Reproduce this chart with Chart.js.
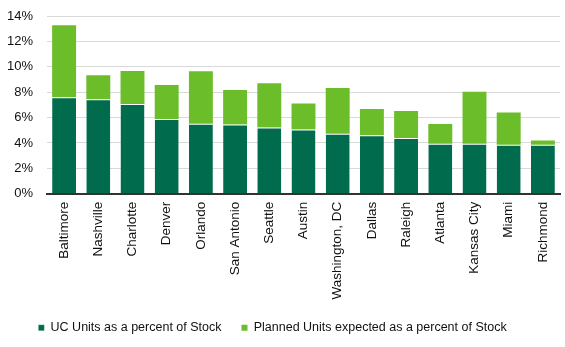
<!DOCTYPE html>
<html>
<head>
<meta charset="utf-8">
<script src="https://cdn.jsdelivr.net/npm/chart.js@4"></script>
<style>
  html, body { margin: 0; padding: 0; background: #fff; }
  #wrap { width: 565px; height: 347px; }
</style>
</head>
<body>
<div id="wrap"><canvas id="chart"></canvas></div>
<script>
// Ciudades y valores (porcentaje del stock)
const cities = ['Baltimore', 'Nashville', 'Charlotte', 'Denver', 'Orlando', 'San Antonio', 'Seattle',
    'Austin', 'Washington, DC', 'Dallas', 'Raleigh', 'Atlanta', 'Kansas City', 'Miami', 'Richmond'];
const ucUnits = [7.6, 7.45, 7.06, 5.88, 5.52, 5.45, 5.22, 5.05, 4.73, 4.6, 4.38, 3.93, 3.93, 3.86, 3.86];
const plannedUnits = [5.68, 1.88, 2.6, 2.68, 4.12, 2.73, 3.48, 2.06, 3.6, 2.07, 2.14, 1.57, 4.1, 2.54, 0.34];
const yTicks = [0, 2, 4, 6, 8, 10, 12, 14];

const darkGreen = '#006b4d';
const lightGreen = '#6cbd2a';

// pequeño ajuste: la leyenda original esta un poco a la izquierda del centro
const legendShift = {
    id: 'legendShift',
    afterLayout(chart) {
        const lg = chart.legend;
        if (lg) { lg.left = -10; lg.right = chart.width - 10; }
    }
};

const ctx = document.getElementById('chart').getContext('2d');
new Chart(ctx, {
    type: 'bar',
    data: {
        labels: cities,
        datasets: [{
            label: 'UC Units as a percent of Stock',
            data: ucUnits,
            backgroundColor: darkGreen,
            borderColor: '#ffffff',
            borderWidth: { top: 1, left: 0, right: 0, bottom: 0 },
            borderSkipped: false,
            categoryPercentage: 1,
            barPercentage: 0.7
        }, {
            label: 'Planned Units expected as a percent of Stock',
            data: plannedUnits,
            backgroundColor: lightGreen,
            borderWidth: 0,
            categoryPercentage: 1,
            barPercentage: 0.7
        }]
    },
    options: {
        responsive: true,
        maintainAspectRatio: false,
        animation: false,
        layout: { padding: { top: 0, left: 0, right: 5, bottom: 3 } },
        scales: {
            x: {
                stacked: true,
                grid: { display: false },
                border: { display: true, color: '#333333', width: 2 },
                afterFit: axis => { axis.height = axis.height + 2; },
                ticks: {
                    minRotation: 90,
                    maxRotation: 90,
                    autoSkip: false,
                    padding: 0,
                    color: '#111',
                    font: { family: 'Liberation Sans, Arial', size: 13.5 }
                }
            },
            y: {
                stacked: true,
                min: 0,
                max: 14,
                afterBuildTicks: axis => { axis.ticks = yTicks.map(v => ({ value: v })); },
                afterFit: axis => {
                    axis.width = 47;
                    axis.paddingTop = 16;
                    axis.paddingBottom = 0;
                },
                grid: { color: '#d9d9d9', drawTicks: false },
                border: { display: false },
                ticks: {
                    padding: 14,
                    color: '#111',
                    font: { family: 'Liberation Sans, Arial', size: 13 },
                    callback: v => v + '%'
                }
            }
        },
        plugins: {
            legend: {
                position: 'bottom',
                labels: {
                    boxWidth: 6,
                    boxHeight: 6,
                    padding: 20,
                    color: '#111',
                    font: { family: 'Liberation Sans, Arial', size: 12.5 }
                }
            },
            tooltip: { enabled: false }
        }
    },
    plugins: [legendShift]
});
</script>
</body>
</html>
